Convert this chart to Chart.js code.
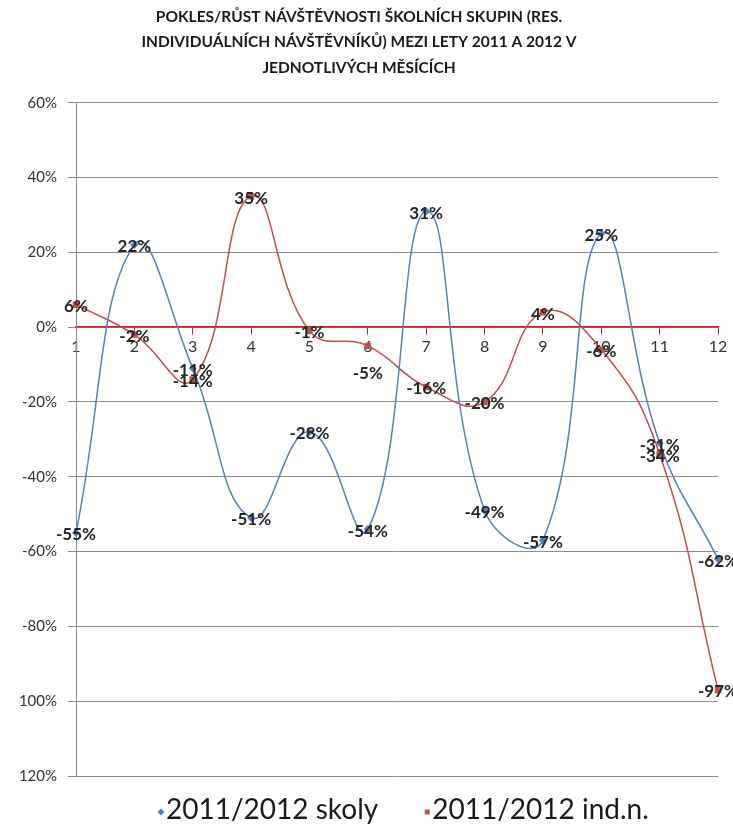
<!DOCTYPE html>
<html>
<head>
<meta charset="utf-8">
<title>Pokles/růst návštěvnosti</title>
<script src="https://cdn.jsdelivr.net/npm/chart.js@4/dist/chart.umd.min.js"></script>
<style>
    html, body { margin: 0; padding: 0; background: #fff; }
    #wrap { width: 733px; height: 827px; }
</style>
</head>
<body>
<div id="wrap"><canvas id="visitChart" width="733" height="827"></canvas></div>
<script>
// months 1-12, change 2011 -> 2012 in percent
const months = ["1", "2", "3", "4", "5", "6", "7", "8", "9", "10", "11", "12"];
const skoly = [-55, 22, -11, -51, -28, -54, 31, -49, -57, 25, -31, -62];
const indN = [6, -2, -14, 35, -1, -5, -16, -20, 4, -6, -34, -97];
const seriesNames = ["2011/2012 skoly", "2011/2012 ind.n."];
const yTickLabels = ["120%", "100%", "-80%", "-60%", "-40%", "-20%", "0%", "20%", "40%", "60%"];
const titleLines = [
    "POKLES/RŮST NÁVŠTĚVNOSTI ŠKOLNÍCH SKUPIN (RES.",
    "INDIVIDUÁLNÍCH NÁVŠTĚVNÍKŮ) MEZI LETY 2011 A 2012 V",
    "JEDNOTLIVÝCH MĚSÍCÍCH"
];

const BLUE = "#5580bd";
const RED = "#c0504d";

/* ---------------------------
   VALUE LABELS ON POINTS
---------------------------- */
const pointLabels = {
    id: "pointLabels",
    afterDatasetsDraw(chart) {
        const ctx = chart.ctx;
        ctx.save();
        ctx.font = "bold 17px Lato";
        ctx.fillStyle = "#262626";
        ctx.textAlign = "center";
        ctx.textBaseline = "middle";
        chart.data.datasets.forEach((ds, i) => {
            chart.getDatasetMeta(i).data.forEach((pt, j) => {
                let dy = 2;
                if (i === 1 && j === 5) dy = 28; // -5% sits below its marker
                ctx.fillText(ds.data[j] + "%", pt.x, pt.y + dy);
            });
        });
        ctx.restore();
    }
};

/* ---------------------------
   LEGEND (marker right next to text)
---------------------------- */
const bottomLegend = {
    id: "bottomLegend",
    afterDraw(chart) {
        const ctx = chart.ctx;
        const y = chart.height - 17;
        let x = 158;
        ctx.save();
        ctx.font = "28px Lato";
        ctx.textBaseline = "middle";
        ctx.fillStyle = "#1a1a1a";
        chart.data.datasets.forEach((ds, i) => {
            ctx.save();
            ctx.fillStyle = ds.borderColor;
            ctx.translate(x + 3, y + 2);
            if (ds.pointStyle === "rectRot") ctx.rotate(Math.PI / 4);
            ctx.fillRect(-2.5, -2.5, 5, 5);
            ctx.restore();
            ctx.fillText(ds.label, x + 8, y);
            x += 8 + ctx.measureText(ds.label).width + 46;
        });
        ctx.restore();
    }
};

new Chart(document.getElementById("visitChart"), {
    type: "line",
    data: {
        labels: months,
        datasets: [{
            label: seriesNames[0],
            data: skoly,
            borderColor: BLUE,
            backgroundColor: BLUE,
            borderWidth: 1.5,
            pointStyle: "rectRot",
            pointRadius: 3,
            tension: 0.45
        }, {
            label: seriesNames[1],
            data: indN,
            borderColor: RED,
            backgroundColor: RED,
            borderWidth: 1.5,
            pointStyle: "rect",
            pointRadius: 3.5,
            tension: 0.45
        }]
    },
    options: {
        responsive: false,
        animation: false,
        devicePixelRatio: 1,
        layout: { padding: { left: 0, right: 15, top: 0, bottom: 51 } },
        plugins: {
            legend: { display: false },
            tooltip: { enabled: false },
            title: {
                display: true,
                text: titleLines,
                color: "#1a1a1a",
                font: { family: "Lato", size: 15.5, weight: "bold", lineHeight: 1.65 },
                padding: { top: 4, bottom: 22 }
            }
        },
        scales: {
            x: {
                position: { y: 0 },
                offset: false,
                grid: { drawOnChartArea: false, color: "#e3121b", tickLength: 7 },
                border: { color: "#e3121b", width: 1.5 },
                ticks: {
                    color: "#333",
                    font: { family: "Lato", size: 16 },
                    padding: 3,
                    maxRotation: 0,
                    autoSkip: false
                }
            },
            y: {
                min: -120,
                max: 60,
                ticks: {
                    stepSize: 20,
                    color: "#333",
                    font: { family: "Lato", size: 15 },
                    padding: 11,
                    callback: (value, index) => yTickLabels[index]
                },
                grid: { color: "#8c8c8c", tickLength: 8 },
                border: { color: "#8c8c8c" },
                afterFit(scale) { scale.width = 76; }
            }
        }
    },
    plugins: [pointLabels, bottomLegend]
});
</script>
</body>
</html>
